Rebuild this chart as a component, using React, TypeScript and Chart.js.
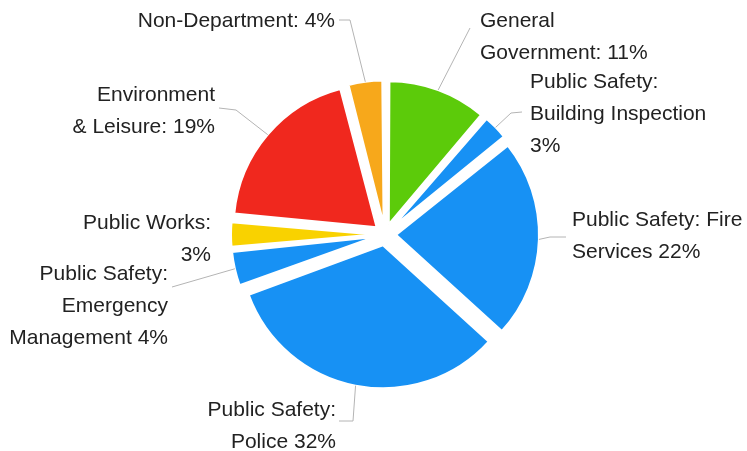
import React, { useEffect, useRef } from 'react';
import { Chart, registerables } from 'chart.js';

Chart.register(...registerables);

// ---- data ----
const categories = [
  'General Government',
  'Public Safety: Building Inspection',
  'Public Safety: Fire Services',
  'Public Safety: Police',
  'Public Safety: Emergency Management',
  'Public Works',
  'Environment & Leisure',
  'Non-Department',
];
const values = [11, 3, 22, 32, 4, 3, 19, 4];
const sliceColors = ['#5ccb0a', '#1791f4', '#1791f4', '#1791f4', '#1791f4', '#f9d200', '#f0281e', '#f7a81b'];
const labelLines = [
  ['General', 'Government: 11%'],
  ['Public Safety:', 'Building Inspection', '3%'],
  ['Public Safety: Fire', 'Services 22%'],
  ['Public Safety:', 'Police 32%'],
  ['Public Safety:', 'Emergency', 'Management 4%'],
  ['Public Works:', '3%'],
  ['Environment', '& Leisure: 19%'],
  ['Non-Department: 4%'],
];

// ---- layout (positions / styles) ----
type LabelLayout = { x: number; y: number; align: 'left' | 'right'; path: number[][] | null };
const LABEL_LAYOUT: LabelLayout[] = [
  { x: 480, y: 21, align: 'left', path: [[470, 28]] },
  { x: 530, y: 82, align: 'left', path: [[522, 112], [511, 113]] },
  { x: 572, y: 220, align: 'left', path: [[566, 237], [550, 237]] },
  { x: 336, y: 410, align: 'right', path: [[339, 421], [353, 421]] },
  { x: 168, y: 274, align: 'right', path: [[172, 287]] },
  { x: 211, y: 223, align: 'right', path: null },
  { x: 215, y: 95, align: 'right', path: [[219, 108], [236, 110]] },
  { x: 335, y: 21, align: 'right', path: [[339, 20], [350, 20]] },
];
const LINE_HEIGHT = 32;
const FONT = '21px "Liberation Sans", Arial, sans-serif';
const PIE_RADIUS = 143;
const SLICE_OFFSET = 44; // Chart.js divides by 4 -> 11px

const radiusFixPlugin = {
  id: 'radiusFix',
  beforeDatasetsDraw(chart: any) {
    const meta = chart.getDatasetMeta(0);
    const baseR = meta.controller.outerRadius;
    meta.data.forEach((arc: any) => {
      const off = (arc.options.offset || 0) / 4;
      const fix = 1 - Math.sin(Math.min(Math.PI, arc.circumference || 0));
      arc.outerRadius = baseR - off * fix;
    });
  },
};

const outLabelsPlugin = {
  id: 'outLabels',
  afterDatasetsDraw(chart: any) {
    const ctx = chart.ctx;
    const meta = chart.getDatasetMeta(0);
    const baseR = meta.controller.outerRadius;
    ctx.save();
    meta.data.forEach((arc: any, i: number) => {
      const lay = LABEL_LAYOUT[i];
      const off = (arc.options.offset || 0) / 4;
      const a = (arc.startAngle + arc.endAngle) / 2;
      const px = arc.x + Math.cos(a) * (off + baseR);
      const py = arc.y + Math.sin(a) * (off + baseR);
      if (lay.path) {
        ctx.strokeStyle = '#b4b4b4';
        ctx.lineWidth = 1;
        ctx.beginPath();
        ctx.moveTo(lay.path[0][0], lay.path[0][1]);
        for (let k = 1; k < lay.path.length; k++) ctx.lineTo(lay.path[k][0], lay.path[k][1]);
        ctx.lineTo(px, py);
        ctx.stroke();
      }
      ctx.fillStyle = '#222222';
      ctx.font = FONT;
      ctx.textAlign = lay.align;
      ctx.textBaseline = 'middle';
      labelLines[i].forEach((t, k) => {
        ctx.fillText(t, lay.x, lay.y + k * LINE_HEIGHT);
      });
    });
    ctx.restore();
  },
};

export default function App() {
  const ref = useRef<HTMLCanvasElement | null>(null);
  useEffect(() => {
    if (!ref.current) return;
    const chart = new Chart(ref.current, {
      type: 'pie',
      data: {
        labels: categories,
        datasets: [
          {
            data: values,
            backgroundColor: sliceColors,
            borderColor: '#ffffff',
            borderWidth: 2,
            offset: SLICE_OFFSET,
          },
        ],
      },
      options: {
        animation: false,
        responsive: false,
        devicePixelRatio: 1,
        radius: PIE_RADIUS,
        layout: { padding: { left: 23, top: 18, right: 0, bottom: 0 } },
        plugins: {
          legend: { display: false },
          tooltip: { enabled: false },
        },
        events: [],
      } as any,
      plugins: [radiusFixPlugin, outLabelsPlugin],
    });
    return () => chart.destroy();
  }, []);
  return (
    <div style={{ position: 'fixed', left: 0, top: 0, width: 747, height: 451, background: '#ffffff' }}>
      <canvas ref={ref} width={747} height={451} style={{ display: 'block' }} />
    </div>
  );
}
